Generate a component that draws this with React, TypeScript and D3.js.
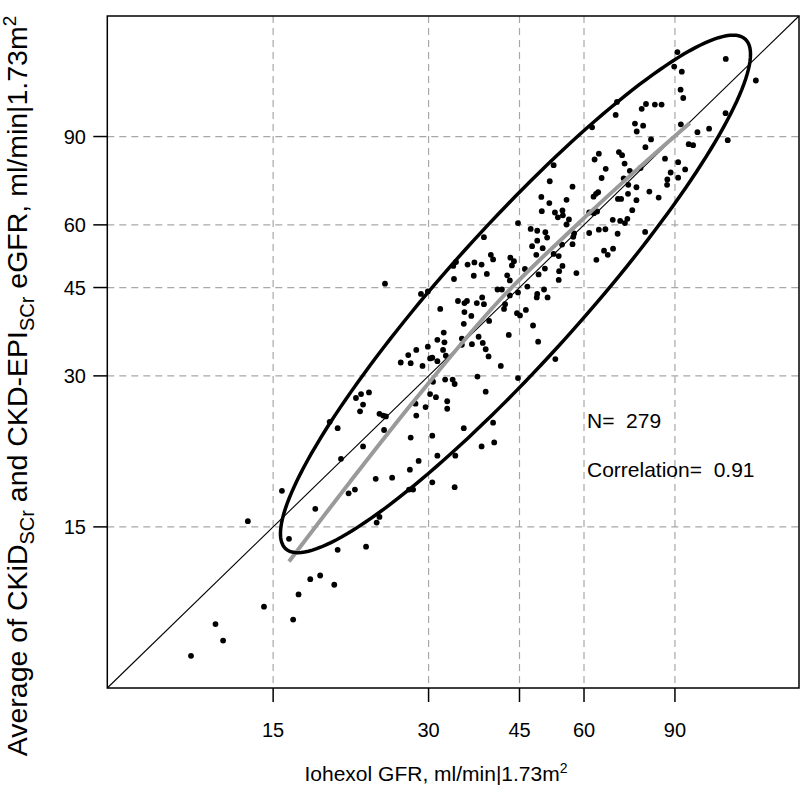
import React from "react";
import * as d3 from "d3";

// Iohexol GFR (x) and average eGFR (y), ml/min|1.73m2
const gfrX = [10.4,11.6,12.0,14.4,13.4,16.4,16.8,16.1,17.7,18.5,19.7,18.1,20.0,22.7,15.6,23.8,24.1,21.0,21.6,23.7,25.5,27.5,28.0,30.5,27.6,28.7,31.2,20.3,22.4,27.7,30.5,24.6,19.3,20.0,28.4,28.3,29.6,24.1,24.5,24.8,22.1,22.4,
24.7,29.0,29.9,31.6,31.2,29.9,28.4,27.4,26.5,27.7,29.2,30.5,31.2,30.6,23.0,22.2,21.7,30.2,31.0,
34.2,35.2,35.6,37.2,38.1,38.4,35.2,36.3,35.1,39.3,42.2,42.0,46.3,44.5,45.1,47.8,42.9,48.9,32.1,34.8,37.5,32.2,32.0,34.8,36.4,38.2,38.7,39.2,32.4,41.4,52.8,44.7,37.3,32.3,33.4,33.7,38.7,32.6,32.6,35.1,40.0,38.0,40.2,33.8,33.7,30.2,
52.4,51.5,57.0,49.6,55.5,51.4,49.7,52.7,54.5,53.4,54.6,56.1,55.5,44.7,47.3,48.7,50.5,50.9,57.4,61.4,57.0,54.4,48.7,49.9,47.6,52.4,53.6,38.4,39.6,40.0,48.5,43.2,43.9,43.5,35.7,36.8,38.0,33.5,33.9,33.6,36.7,38.9,42.6,43.1,49.0,50.4,54.5,53.7,53.6,58.0,40.8,41.6,44.7,46.6,46.1,48.7,50.2,51.0,43.1,48.6,57.2,
89.7,92.8,91.0,112.9,92.3,93.4,69.5,69.1,79.1,82.3,84.8,77.6,75.3,78.1,75.9,62.2,92.4,99.5,104.8,112.8,129.1,113.9,80.9,78.9,95.7,97.6,64.1,62.9,70.1,71.1,71.9,86.1,91.3,66.1,77.2,73.6,94.2,88.3,64.9,71.6,87.0,91.3,73.1,86.9,75.8,62.6,63.3,63.9,69.8,70.8,73.0,75.8,80.3,83.7,74.4,61.4,62.7,63.6,68.2,70.5,72.0,72.8,64.1,66.0,69.7,78.8,65.6,66.7,68.3,63.4];

const gfrY = [8.3,9.6,8.9,10.4,15.4,9.8,11.0,14.2,11.8,12.0,11.5,16.3,13.5,13.7,17.7,15.3,15.7,17.5,17.8,18.7,18.8,17.8,17.8,18.4,19.5,20.3,20.8,20.5,21.7,22.6,22.8,23.4,24.3,23.6,25.0,26.4,26.0,25.2,25.0,24.9,25.5,26.3,
45.8,43.7,44.2,40.8,35.4,34.3,33.8,33.0,31.9,31.8,31.4,32.6,32.1,29.2,27.8,27.6,27.1,27.6,27.2,
42.3,41.9,42.3,41.9,43.0,41.7,40.2,39.5,38.1,38.6,41.7,40.8,40.6,40.0,39.6,37.8,36.2,35.1,36.6,35.6,35.9,35.0,33.8,34.6,34.7,34.9,33.9,32.8,32.9,31.4,32.4,29.7,29.9,29.5,29.5,28.9,27.9,26.7,25.8,23.6,24.2,21.7,22.1,20.8,18.0,32.5,
78.9,73.3,71.5,68.2,67.3,66.3,63.9,63.5,64.1,62.1,62.7,61.5,60.1,60.5,58.9,58.4,58.0,56.6,57.7,57.8,54.9,54.8,55.8,53.9,54.4,52.5,52.0,56.7,52.3,51.2,52.3,51.6,50.8,49.8,50.0,50.5,50.0,49.7,50.6,46.8,47.5,47.9,47.6,46.5,47.8,49.1,49.7,48.5,46.6,48.1,44.6,44.6,44.0,45.2,49.0,43.7,44.6,43.0,43.4,43.0,56.8,
124.1,121.2,132.6,128.5,111.6,107.4,105.5,99.4,104.5,104.2,104.2,102.2,95.5,94.6,92.1,93.9,95.2,91.8,93.3,100.2,116.4,88.5,88.8,85.7,86.9,86.5,83.2,81.0,83.8,82.6,79.5,81.3,80.0,77.6,77.9,76.9,77.4,76.3,74.4,74.3,73.9,74.5,72.1,72.1,71.3,68.3,69.2,69.7,67.6,67.6,69.2,67.2,69.9,68.0,64.2,63.5,63.3,63.8,61.4,61.1,60.5,61.7,58.7,58.8,57.6,58.1,53.3,52.3,53.8,51.1];

const tickValues = [15, 30, 45, 60, 90];
const axisDomain = [7.16, 156.5];

// smoother (x, y)
const smoothX = [16.1, 21.1, 28.0, 41.2, 58.9, 77.0, 96.2];
const smoothY = [12.8, 18.4, 26.6, 42.5, 60.8, 78.3, 95.8];

// ellipse: center, end of major semi-axis, end of conjugate semi-axis
const ellipseCenter = [44.2, 43.7];
const ellipseMajor = [123.1, 140.8];
const ellipseMinor = [55.2, 35.6];

const nLabel = "N=  279";
const corrLabel = "Correlation=  0.91";

const W = 800, H = 787;
const L = 107.3, R = 799, T = 16, B = 688;
const FONT = "'Liberation Sans', Arial, Helvetica, sans-serif";

export default function App() {
  const x = d3.scaleLog().domain(axisDomain).range([L, R]);
  const y = d3.scaleLog().domain(axisDomain).range([B, T]);

  const pts = gfrX.map((v, i) => [v, gfrY[i]]);

  const lc = [Math.log(ellipseCenter[0]), Math.log(ellipseCenter[1])];
  const la = [Math.log(ellipseMajor[0]) - lc[0], Math.log(ellipseMajor[1]) - lc[1]];
  const lb = [Math.log(ellipseMinor[0]) - lc[0], Math.log(ellipseMinor[1]) - lc[1]];
  const ell = d3.range(0, 360, 2).map((deg) => {
    const t = (deg * Math.PI) / 180;
    const u = lc[0] + la[0] * Math.cos(t) + lb[0] * Math.sin(t);
    const v = lc[1] + la[1] * Math.cos(t) + lb[1] * Math.sin(t);
    return [x(Math.exp(u)), y(Math.exp(v))] as [number, number];
  });
  const ellPath = d3.line().curve(d3.curveLinearClosed)(ell);

  const smoothPath = d3
    .line<number>()
    .x((d, i) => x(smoothX[i]))
    .y((d, i) => y(smoothY[i]))
    .curve(d3.curveCatmullRom)(smoothX);

  return (
    <svg width={W} height={H} style={{ position: "absolute", left: 0, top: 0, background: "#fff" }} fontFamily={FONT}>
      <rect x={0} y={0} width={W} height={H} fill="#fff" />
      {/* grid */}
      {tickValues.map((t) => (
        <line key={"gx" + t} x1={x(t)} x2={x(t)} y1={T} y2={B} stroke="#a8a8a8" strokeWidth={1.2} strokeDasharray="7 5" />
      ))}
      {tickValues.map((t) => (
        <line key={"gy" + t} x1={L} x2={R} y1={y(t)} y2={y(t)} stroke="#a8a8a8" strokeWidth={1.2} strokeDasharray="7 5" />
      ))}
      {/* identity line */}
      <line x1={x(axisDomain[0])} y1={y(axisDomain[0])} x2={x(axisDomain[1])} y2={y(axisDomain[1])} stroke="#000" strokeWidth={1.1} />
      {/* points */}
      {pts.map((p, i) => (
        <circle key={i} cx={x(p[0])} cy={y(p[1])} r={2.9} fill="#000" />
      ))}
      {/* smoother */}
      <path d={smoothPath || ""} fill="none" stroke="#9a9a9a" strokeWidth={4} strokeLinecap="butt" />
      {/* ellipse */}
      <path d={ellPath || ""} fill="none" stroke="#000" strokeWidth={3.5} />
      {/* box */}
      <rect x={L} y={T} width={R - L} height={B - T} fill="none" stroke="#000" strokeWidth={1.5} />
      {/* ticks */}
      {tickValues.map((t) => (
        <g key={"tx" + t}>
          <line x1={x(t)} x2={x(t)} y1={B} y2={B + 14} stroke="#000" strokeWidth={1.5} />
          <text x={x(t)} y={737} textAnchor="middle" fontSize={20}>{t}</text>
        </g>
      ))}
      {tickValues.map((t) => (
        <g key={"ty" + t}>
          <line x1={L - 14} x2={L} y1={y(t)} y2={y(t)} stroke="#000" strokeWidth={1.5} />
          <text x={86} y={y(t)} dy="0.35em" textAnchor="end" fontSize={20}>{t}</text>
        </g>
      ))}
      {/* annotations */}
      <text x={587} y={428} fontSize={21} style={{ whiteSpace: "pre" }}>{nLabel}</text>
      <text x={587} y={477} fontSize={21} style={{ whiteSpace: "pre" }}>{corrLabel}</text>
      {/* x title */}
      <text x={436} y={781} textAnchor="middle" fontSize={21}>
        Iohexol GFR, ml/min|1.73m<tspan dy={-8} fontSize={14}>2</tspan>
      </text>
      {/* y title */}
      <text transform="rotate(-90)" x={-386} y={27} textAnchor="middle" fontSize={28.5}>
        Average of CKiD<tspan dy={7} fontSize={20}>SCr</tspan>
        <tspan dy={-7}> and CKD-EPI</tspan>
        <tspan dy={7} fontSize={20}>SCr</tspan>
        <tspan dy={-7}> eGFR, ml/min|1.73m</tspan>
        <tspan dy={-11} fontSize={19}>2</tspan>
      </text>
    </svg>
  );
}
